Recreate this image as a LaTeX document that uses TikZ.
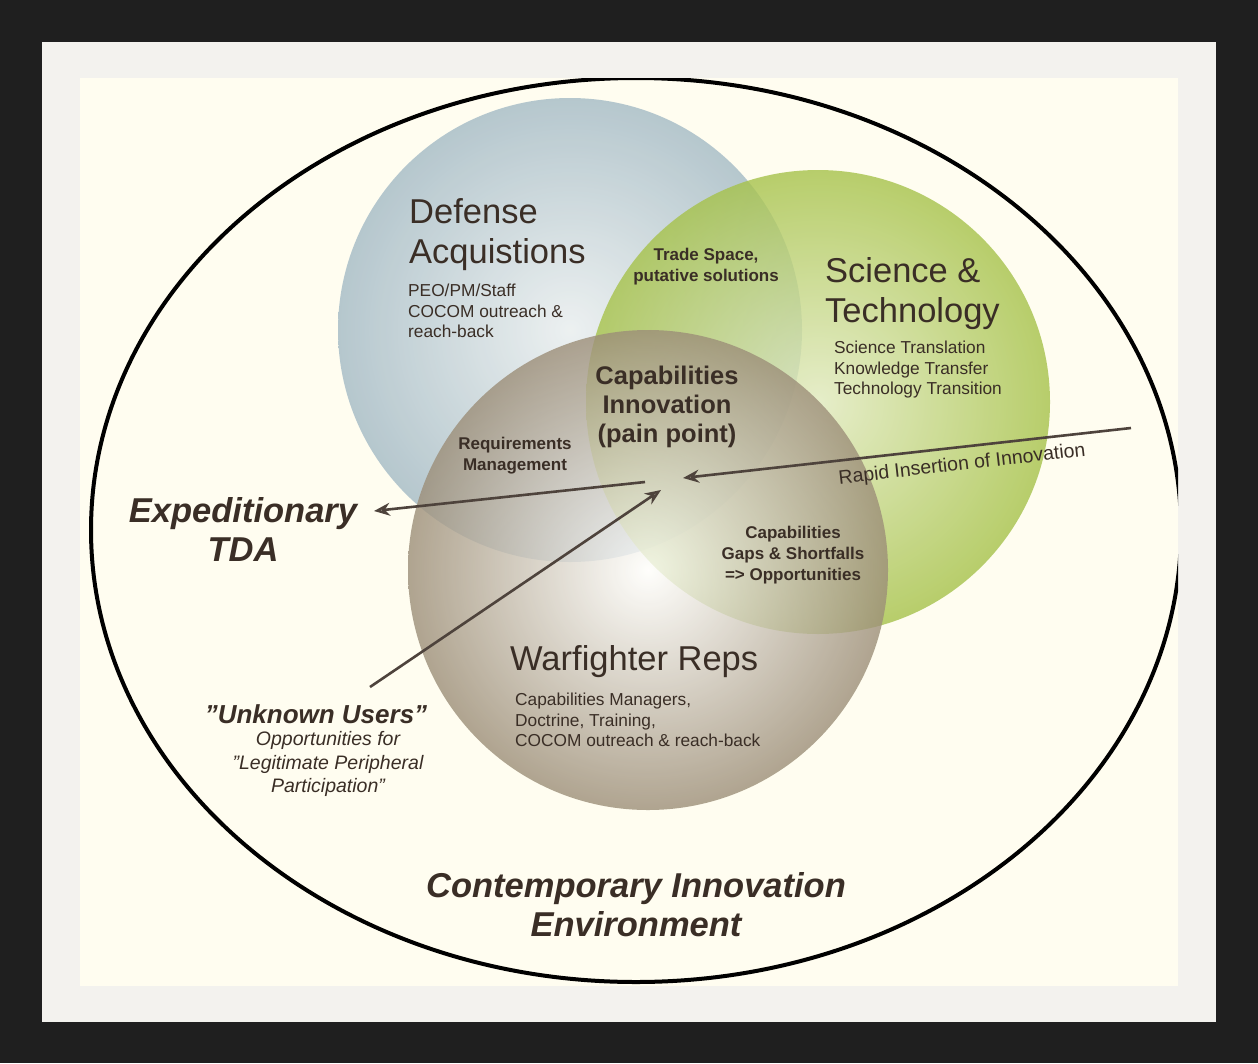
\documentclass[tikz,border=0pt]{standalone}
\usepackage{fontspec}
\setmainfont{Liberation Sans}
\usetikzlibrary{arrows.meta}
\definecolor{ink}{HTML}{3A2E26}
\definecolor{panel}{HTML}{FFFDF0}
\definecolor{mat}{HTML}{F3F2EE}
\definecolor{blu}{HTML}{A9BEC8}
\definecolor{grn}{HTML}{A6C24A}
\definecolor{brn}{HTML}{9C8E78}
\tikzset{
 big/.style={text=ink,font=\fontsize{34.5}{40}\selectfont,align=left,anchor=north west,inner sep=0pt},
 small/.style={text=ink,font=\fontsize{17.3}{20.5}\selectfont,align=left,anchor=north west,inner sep=0pt},
 mid/.style={text=ink,font=\bfseries\fontsize{17}{21}\selectfont,align=center},
 core/.style={text=ink,font=\bfseries\fontsize{25.5}{29}\selectfont,align=center},
 ital/.style={text=ink,font=\bfseries\itshape\fontsize{34.5}{39}\selectfont,align=center},
 arr/.style={draw=ink!90,line width=2.6pt,-{Stealth[length=16pt,width=13pt,open,line width=2.4pt]}},
}
\begin{document}
\begin{tikzpicture}[x=1pt,y=-1pt]
\useasboundingbox (0,0) rectangle (1258,1063);
\fill[black!88] (0,0) rectangle (1258,1063);
\fill[mat] (42,42) rectangle (1216,1022);
\fill[panel] (80,78) rectangle (1178,986);
\begin{scope}
\clip (80,78) rectangle (1178,986);
\draw[black,line width=4pt] (636,530) ellipse [x radius=545,y radius=452];
\end{scope}
\shade[inner color=blu!25,outer color=blu,opacity=0.85] (570,330) circle (232);
\shade[inner color=grn!35,outer color=grn,opacity=0.8] (818,402) circle (232);
\shade[inner color=white,outer color=brn,opacity=0.8] (648,570) circle (240);
\node[big] (da) at (409,198) {Defense\\Acquistions};
\node[small] (das) at (408,284) {PEO/PM/Staff\\COCOM outreach \&\\reach-back};
\node[big] (st) at (825,257) {Science \&\\Technology};
\node[small] (sts) at (834,341) {Science Translation\\Knowledge Transfer\\Technology Transition};
\node[big] (wf) at (510,645) {Warfighter Reps};
\node[small] (wfs) at (515,693) {Capabilities Managers,\\Doctrine, Training,\\COCOM outreach \& reach-back};
\node[mid] (ts) at (706,267) {Trade Space,\\putative solutions};
\node[mid] (rm) at (515,456) {Requirements\\Management};
\node[mid] (cg) at (793,555) {Capabilities\\Gaps \& Shortfalls\\=> Opportunities};
\node[core] (ci) at (667,407) {Capabilities\\Innovation\\(pain point)};
\node[ital] (et) at (243,529) {Expeditionary\\TDA};
\node[text=ink,font=\bfseries\itshape\fontsize{26}{30}\selectfont] (uu) at (316,714) {"Unknown Users"};
\node[text=ink,font=\itshape\fontsize{19.5}{23.5}\selectfont,align=center,anchor=north] (uus) at (328,728) {Opportunities for\\"Legitimate Peripheral\\Participation"};
\node[ital] (cie) at (636,905) {Contemporary Innovation\\Environment};
\node[text=ink,font=\fontsize{19.5}{22}\selectfont,rotate=6.5] (ri) at (962,465) {Rapid Insertion of Innovation};
\coordinate (r1) at (1131,428);
\coordinate (r2) at (683,478);
\coordinate (e1) at (645,482);
\coordinate (e2) at (374,511);
\coordinate (u1) at (370,687);
\coordinate (u2) at (661,490);
\draw[arr] (r1) -- (r2);
\draw[arr] (e1) -- (e2);
\draw[arr] (u1) -- (u2);
\end{tikzpicture}
\end{document}
